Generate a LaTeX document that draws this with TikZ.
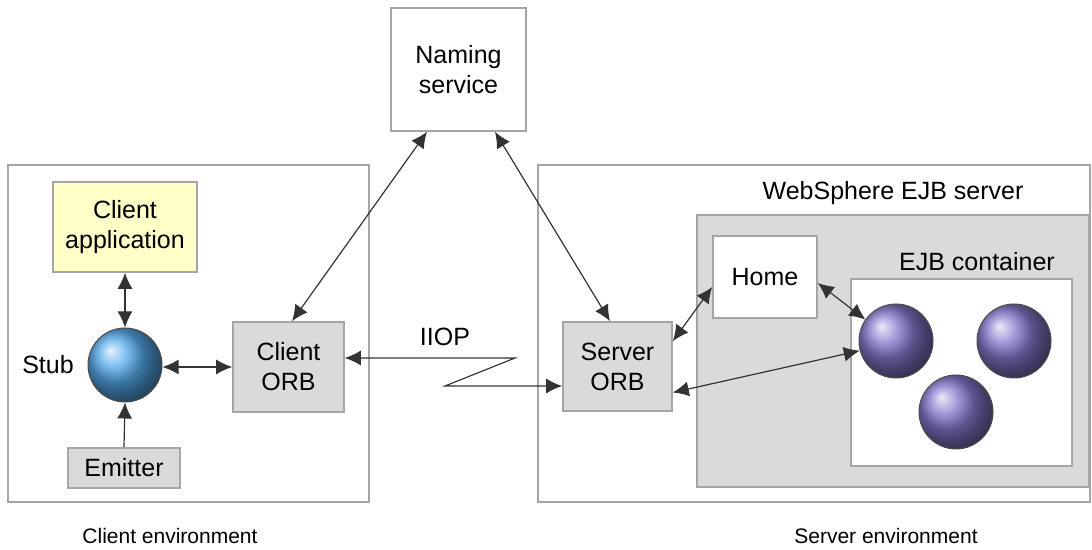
\documentclass[tikz,border=0pt]{standalone}
\usepackage{fontspec}
\setmainfont{Liberation Sans}
\usepackage{tikz}
\usetikzlibrary{positioning,arrows.meta,calc}

\definecolor{boxline}{RGB}{165,165,165}
\definecolor{boxgray}{RGB}{218,218,218}
\definecolor{appyellow}{RGB}{255,255,200}
\definecolor{stubblue}{RGB}{85,170,235}
\definecolor{beanpurple}{RGB}{135,120,205}

\tikzset{
  labelfont/.style={font=\fontsize{12.5}{15}\selectfont},
  plainbox/.style={draw=boxline,line width=0.8pt,align=center,labelfont},
  orbbox/.style={plainbox,fill=boxgray},
  bean/.style={circle,draw=black!70,line width=0.5pt,minimum size=37pt,inner sep=0pt,shading=ball,ball color=beanpurple},
  link/.style={line width=0.6pt,black!80,{Latex[length=8pt,width=7.5pt]}-{Latex[length=8pt,width=7.5pt]}},
  onelink/.style={line width=0.6pt,black!80,-{Latex[length=8pt,width=7.5pt]}}
}

\begin{document}
\begin{tikzpicture}[x=0.5pt,y=-0.5pt]
  \useasboundingbox (0,0) rectangle (1092,550);

  % environments
  \draw[boxline,line width=0.8pt] (8,165) rectangle (369,502);
  \draw[boxline,line width=0.8pt] (538,165) rectangle (1090,502);
  \node[labelfont,font=\fontsize{10.5}{13}\selectfont] (clientenvtxt) at (170,536) {Client environment};
  \node[labelfont,font=\fontsize{10.5}{13}\selectfont] (serverenvtxt) at (886,536) {Server environment};

  % naming service
  \node[plainbox,fill=white,minimum width=67.5pt,minimum height=61.5pt] (naming) at (458.5,69.5) {Naming\\ service};

  % client side
  \node[plainbox,fill=appyellow,minimum width=72pt,minimum height=45pt] (clientapp) at (125,227) {Client\\ application};
  \node[circle,draw=black!70,line width=0.5pt,minimum size=37pt,inner sep=0pt,shading=ball,ball color=stubblue] (stub) at (125,365) {};
  \node[labelfont] (stubtxt) at (48,365) {Stub};
  \node[orbbox,minimum width=55.5pt,minimum height=45pt] (clientorb) at (288.5,367) {Client\\ ORB};
  \node[orbbox,minimum width=56pt,minimum height=20pt] (emitter) at (124,468) {Emitter};

  % server side
  \node[orbbox,minimum width=54.5pt,minimum height=44.5pt] (serverorb) at (617.5,366.5) {Server\\ ORB};
  \draw[boxline,fill=boxgray,line width=0.8pt] (697,215) rectangle (1089,487);
  \node[labelfont] (ejbsrvtxt) at (893,193) {WebSphere EJB server};
  \node[plainbox,fill=white,minimum width=52pt,minimum height=41pt] (home) at (765,277) {Home};
  \draw[boxline,fill=white,line width=0.8pt] (851,279) rectangle (1072,466);
  \node[labelfont] (ejbconttxt) at (977,262) {EJB container};
  \node[bean] (beanA) at (896,341) {};
  \node[bean] (beanB) at (1014,341) {};
  \node[bean] (beanC) at (956,412) {};

  % connectors
  \draw[link] (clientapp.south) -- (stub.north);
  \draw[link] ([yshift=-1pt]stub.east) -- ([yshift=-1pt]stub.east -| clientorb.west);
  \draw[onelink] (emitter.north) -- (stub.south);
  \draw[link] ([xshift=-15.75pt]naming.south) -- ([xshift=1.75pt]clientorb.north);
  \draw[link] ([xshift=18.25pt]naming.south) -- ([xshift=-3.75pt]serverorb.north);
  \coordinate (zigA) at (515,358);
  \coordinate (zigB) at (445,386);
  \draw[link] (clientorb.east |- zigA) -- (zigA) -- (zigB) -- (serverorb.west |- zigB);
  \node[labelfont] (iioptxt) at (445,337) {IIOP};
  \draw[link] ([yshift=-10pt]serverorb.north east) -- ([yshift=-5pt]home.west);
  \draw[link] ([yshift=-3pt]home.east) -- (beanA.145);
  \draw[link] ([yshift=-13pt]serverorb.east) -- (beanA.195);
\end{tikzpicture}
\end{document}
